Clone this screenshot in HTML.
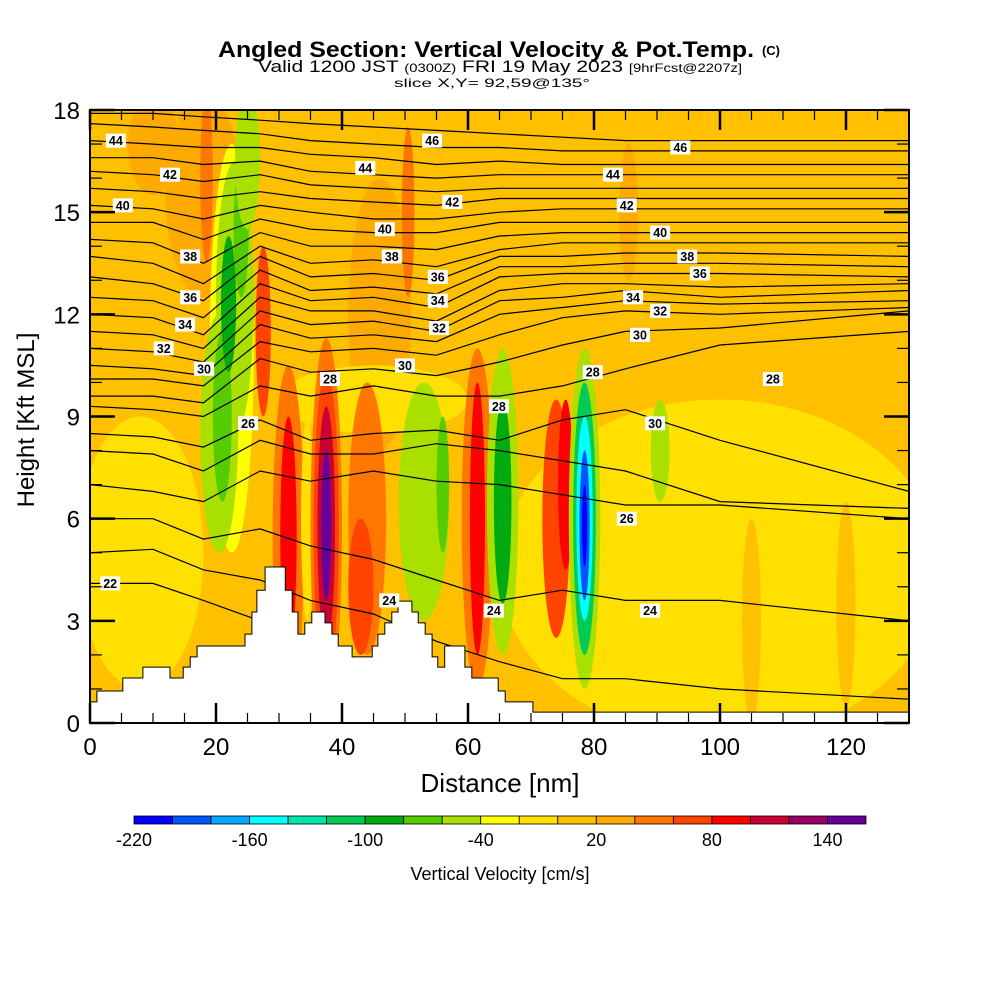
<!DOCTYPE html>
<html><head><meta charset="utf-8"><style>
html,body{margin:0;padding:0;background:#fff;}
svg{display:block;font-family:"Liberation Sans",sans-serif;}
</style></head><body>
<svg id="chart" width="1000" height="1000" viewBox="0 0 1000 1000">
<g>
<text x="486" y="57" text-anchor="middle" font-size="22" font-weight="bold" textLength="536" lengthAdjust="spacingAndGlyphs">Angled Section: Vertical Velocity &amp; Pot.Temp.</text>
<text x="771" y="55" text-anchor="middle" font-size="13" font-weight="bold">(C)</text>
<text x="500" y="72" text-anchor="middle" font-size="17" textLength="484" lengthAdjust="spacingAndGlyphs">Valid 1200 JST <tspan font-size="12">(0300Z)</tspan> FRI 19 May 2023 <tspan font-size="12">[9hrFcst@2207z]</tspan></text>
<text x="492" y="87" text-anchor="middle" font-size="12" textLength="196" lengthAdjust="spacingAndGlyphs">slice X,Y= 92,59@135°</text>
</g>
<defs><clipPath id="plotclip"><rect x="90" y="110" width="819" height="613"/></clipPath></defs>
<g id="field" clip-path="url(#plotclip)"></g>
<g id="contours" clip-path="url(#plotclip)"></g>
<g id="terrain"></g>
<g id="clabels"></g>
<g id="axes"></g>
<g id="cbar"></g>
<text x="500" y="792" text-anchor="middle" font-size="26">Distance [nm]</text>
<text transform="translate(34,420) rotate(-90)" text-anchor="middle" font-size="24">Height [Kft MSL]</text>
<text x="500" y="880" text-anchor="middle" font-size="18">Vertical Velocity [cm/s]</text>
</svg>
<script>
// ---- data ----
const xTicks = [0,20,40,60,80,100,120];
const yTicks = [0,3,6,9,12,15,18];
const cbarTicks = [-220,-160,-100,-40,20,80,140];
const cbarColors = ["#0000ff","#0055ff","#00aaff","#00ffff","#00e6aa","#00cc55","#00aa11","#55cc00","#aae000","#ffff00","#ffe000","#ffc000","#ffaa00","#ff7700","#ff4400","#ff0000","#cc0033","#990066","#660099"];
const backgroundValue = 10;
// velocity features: centre x (nm), centre z (kft), half-width (nm), half-height (kft), value (cm/s)
const featX  = [100,8,18,10,46,22.5,20.5,23,21,24,22,25,18.5,27.5,50.5,45,31.5,31.5,34.5,37.5,37.5,37.5,37.5,44,43,53,56,61.5,61.5,65.5,65.5,74,75.5,78.5,78.5,78.5,78.5,78.5,90.5,85.5,120,105];
const featZ  = [4.5,5,15.5,17,12,11,8.5,12.5,9,14.5,12.3,16.5,16,11.5,15,9.5,5.5,5.5,6,5.8,5.8,5.8,5.8,6,4,6.5,7,6,6,6.5,6.5,6,7,6,6,6,5.8,5.8,8,15,3.5,3];
const featRX = [35,10,6,4,5,3.5,3,3,1.5,1.2,1.2,2,1,1.2,1,15,2.5,1.3,1,2.5,2,1.4,0.8,3,2,4,1,2.5,1.2,2.5,1.4,2.2,1.2,2.5,1.8,1.3,0.8,0.4,1.5,1.5,1.5,1.5];
const featRZ = [5,4,3,1.5,4,6,3.5,4,2.5,2,2,2,2.5,2.5,2.5,1,5,3.5,3,5.5,4.5,3.5,2.2,4,2,3.5,2,5,4,4.5,3,3.5,2.5,5,4,3,2.2,1.2,1.5,2,3,3];
const featV  = [-10,-10,30,30,30,-30,-50,-60,-70,-70,-90,-50,50,60,50,-10,50,90,-10,40,70,110,150,50,70,-50,-80,50,80,-50,-90,60,85,-50,-110,-150,-190,-215,-50,30,10,10];
// potential temperature contours: heights (kft) at sample distances
const sampleX = [0,10,18,27,35,45,55,65,75,85,100,130];
const thetaLevels = [46,45,44,43,42,41,40,39,38,37,36,35,34,33,32,31,30,29,28,27,26,25,24,23,22];
const thetaHeights = [
[17.9,17.9,17.8,17.7,17.6,17.5,17.4,17.3,17.2,17.1,17.1,17.1],
[17.6,17.5,17.4,17.3,17.1,17.0,16.9,16.9,16.8,16.8,16.8,16.8],
[17.1,17.0,16.9,16.9,16.7,16.6,16.4,16.5,16.4,16.4,16.4,16.4],
[16.6,16.6,16.4,16.5,16.2,16.1,16.0,16.1,16.1,16.1,16.1,16.1],
[16.2,16.1,15.9,16.1,15.8,15.7,15.6,15.7,15.7,15.7,15.7,15.7],
[15.7,15.6,15.4,15.6,15.4,15.3,15.2,15.4,15.4,15.4,15.4,15.4],
[15.2,15.1,14.8,15.2,15.0,14.8,14.8,15.0,15.1,15.1,15.1,15.1],
[14.7,14.7,14.2,14.8,14.5,14.4,14.4,14.7,14.7,14.7,14.7,14.7],
[14.2,14.1,13.5,14.4,14.0,14.0,13.9,14.3,14.4,14.4,14.4,14.4],
[13.7,13.5,12.9,14.0,13.5,13.6,13.4,13.9,14.1,14.1,14.1,14.1],
[13.1,12.9,12.4,13.7,13.1,13.2,13.0,13.7,13.7,13.8,13.8,13.7],
[12.5,12.4,11.9,13.3,12.7,12.8,12.6,13.4,13.4,13.5,13.5,13.4],
[12.0,11.9,11.4,12.9,12.4,12.5,12.2,13.1,13.2,13.2,13.2,13.1],
[11.5,11.4,11.0,12.5,12.1,12.1,11.8,12.7,12.9,12.9,12.8,12.9],
[11.0,10.9,10.6,12.1,11.7,11.8,11.5,12.4,12.5,12.7,12.5,12.7],
[10.5,10.4,10.2,11.7,11.3,11.4,11.2,12.0,12.2,12.4,12.3,12.4],
[10.1,10.1,9.9,11.2,10.9,11.0,10.8,11.4,11.9,12.1,12.0,12.2],
[9.6,9.6,9.4,10.7,10.3,10.4,10.2,10.6,11.1,11.5,11.6,12.1],
[9.3,9.2,9.0,9.9,9.6,9.9,9.6,9.6,9.9,10.4,11.1,11.5],
[8.5,8.4,8.1,8.9,8.3,8.5,8.6,8.3,8.9,9.2,8.3,6.8],
[8.0,7.9,7.4,8.3,7.9,7.9,8.2,8.0,7.7,7.4,6.5,6.3],
[7.0,6.8,6.5,7.4,7.1,7.4,7.1,7.0,6.7,6.4,6.4,6.0],
[6.0,6.0,5.4,5.7,5.2,4.8,4.2,3.6,3.9,3.6,3.6,3.0],
[5.0,5.1,4.5,4.2,3.6,3.2,2.4,1.8,1.3,1.3,1.0,0.7],
[4.1,4.1,3.6,3.0,2.1,1.3,0.7,0.4,0.2,0.2,0.2,0.2]
];
// contour labels
const labelText = [44,42,40,38,36,34,32,30,28,26,22,46,44,42,40,38,36,34,32,30,28,24,24,46,44,42,40,38,36,34,32,30,28,28,26,24,30];
const labelX = [4.1,12.7,5.2,15.9,15.9,15.1,11.7,18.1,38.1,25.1,3.2,54.3,43.7,57.5,46.8,47.9,55.2,55.2,55.4,50.0,64.9,47.5,64.1,93.7,83.0,85.2,90.5,94.8,96.8,86.2,90.5,87.3,79.8,108.4,85.2,88.9,89.7];
const labelZ = [17.1,16.1,15.2,13.7,12.5,11.7,11.0,10.4,10.1,8.8,4.1,17.1,16.3,15.3,14.5,13.7,13.1,12.4,11.6,10.5,9.3,3.6,3.3,16.9,16.1,15.2,14.4,13.7,13.2,12.5,12.1,11.4,10.3,10.1,6.0,3.3,8.8];
// terrain steps: start distance (nm) and height (kft)
const terrainX = [0,1.1,5.2,8.4,12.7,14.8,15.9,17.0,24.6,25.7,26.5,27.8,31.0,32.1,33.0,34.1,35.2,37.3,38.4,39.4,41.6,44.8,45.7,46.8,47.9,48.9,51.1,52.1,53.2,54.3,55.2,56.3,59.5,60.6,64.8,65.9,70.3];
const terrainZ = [0.62,0.94,1.32,1.64,1.32,1.64,1.94,2.26,2.61,3.26,3.9,4.58,3.9,3.26,2.61,2.94,3.26,2.94,2.61,2.26,1.94,2.26,2.61,2.94,3.26,3.58,3.26,2.94,2.61,1.94,1.64,2.26,1.64,1.32,0.94,0.62,0.32];

// ---- scales ----
const X0=90, X1=909, Y0=723, Y1=110, XMAX=130, ZMAX=18;
const sx = v => X0 + v*(X1-X0)/XMAX;
const sz = v => Y0 - v*(Y0-Y1)/ZMAX;
const colorFor = v => { let k=Math.floor((v+220)/20); k=Math.max(0,Math.min(18,k)); return cbarColors[k]; };
const NS="http://www.w3.org/2000/svg";
function mk(tag, attrs, parent){ const e=document.createElementNS(NS,tag); for(const k in attrs) e.setAttribute(k,attrs[k]); parent.appendChild(e); return e; }

// field
const field=document.getElementById('field');
const bg=mk('rect',{x:X0,y:Y1,width:X1-X0,height:Y0-Y1,fill:colorFor(backgroundValue)},field);


for(let i=0;i<featV.length;i++){
  const e=mk('ellipse',{cx:sx(featX[i]),cy:sz(featZ[i]),rx:featRX[i]*(X1-X0)/XMAX,ry:featRZ[i]*(Y0-Y1)/ZMAX,fill:colorFor(featV[i])},field);
  
  
}
// contours
const cg=document.getElementById('contours');
for(let l=0;l<thetaLevels.length;l++){
  let d='';
  for(let j=0;j<sampleX.length;j++){ d+=(j?'L':'M')+sx(sampleX[j]).toFixed(1)+','+sz(thetaHeights[l][j]).toFixed(1); }
  const p=mk('path',{d:d,fill:'none',stroke:'#000','stroke-width':1.2},cg);
  
  
}
// terrain
const tg=document.getElementById('terrain');
let td='M'+sx(terrainX[0])+','+Y0;
for(let i=0;i<terrainX.length;i++){
  const xe = i+1<terrainX.length? terrainX[i+1] : XMAX;
  td+='L'+sx(terrainX[i]).toFixed(1)+','+sz(terrainZ[i]).toFixed(1)+'L'+sx(xe).toFixed(1)+','+sz(terrainZ[i]).toFixed(1);
}
td+='L'+X1+','+Y0+'Z';
const tp=mk('path',{d:td,fill:'#fff',stroke:'#000','stroke-width':1},tg);


// contour labels
const lg=document.getElementById('clabels');
for(let i=0;i<labelText.length;i++){
  const cx=sx(labelX[i]), cy=sz(labelZ[i]);
  const r=mk('rect',{x:cx-10,y:cy-7,width:20,height:14,fill:'#fff'},lg);
  
  
  const t=mk('text',{x:cx,y:cy+4.5,'text-anchor':'middle','font-size':12.5,'font-weight':'bold'},lg);
  t.textContent=labelText[i];
  
  
}
// axes
const ag=document.getElementById('axes');
const fr=mk('rect',{x:X0,y:Y1,width:X1-X0,height:Y0-Y1,fill:'none',stroke:'#000','stroke-width':2},ag);


for(let v=0;v<=XMAX;v+=5){
  const big=v%20===0, L=big?20:10, x=sx(v);
  const a=mk('line',{x1:x,x2:x,y1:Y0,y2:Y0-L,stroke:'#000','stroke-width':big?2.5:1.2},ag);
  
  
  const b=mk('line',{x1:x,x2:x,y1:Y1,y2:Y1+L,stroke:'#000','stroke-width':big?2.5:1.2},ag);
  
  
}
for(let v=0;v<=ZMAX;v+=1){
  const big=v%3===0, L=big?25:12, y=sz(v);
  const a=mk('line',{x1:X0,x2:X0+L,y1:y,y2:y,stroke:'#000','stroke-width':big?2.5:1.2},ag);
  
  
  const b=mk('line',{x1:X1,x2:X1-L,y1:y,y2:y,stroke:'#000','stroke-width':big?2.5:1.2},ag);
  
  
}
xTicks.forEach(v=>{
  const t=mk('text',{x:sx(v),y:755,'text-anchor':'middle','font-size':24},ag);
  t.textContent=v;
  
  
});
yTicks.forEach(v=>{
  const t=mk('text',{x:80,y:sz(v)+9,'text-anchor':'end','font-size':24},ag);
  t.textContent=v;
  
  
});
// colorbar
const cb=document.getElementById('cbar');
const CB0=134, CB1=866, CBW=(CB1-CB0)/cbarColors.length;
cbarColors.forEach((c,i)=>{
  const r=mk('rect',{x:CB0+i*CBW,y:816,width:CBW,height:8,fill:c,stroke:'#000','stroke-width':0.8},cb);
  
  
});
cbarTicks.forEach(v=>{
  const t=mk('text',{x:CB0+(v+220)/20*CBW,y:846,'text-anchor':'middle','font-size':18},cb);
  t.textContent=v;
  
  
});
</script>
</body></html>
